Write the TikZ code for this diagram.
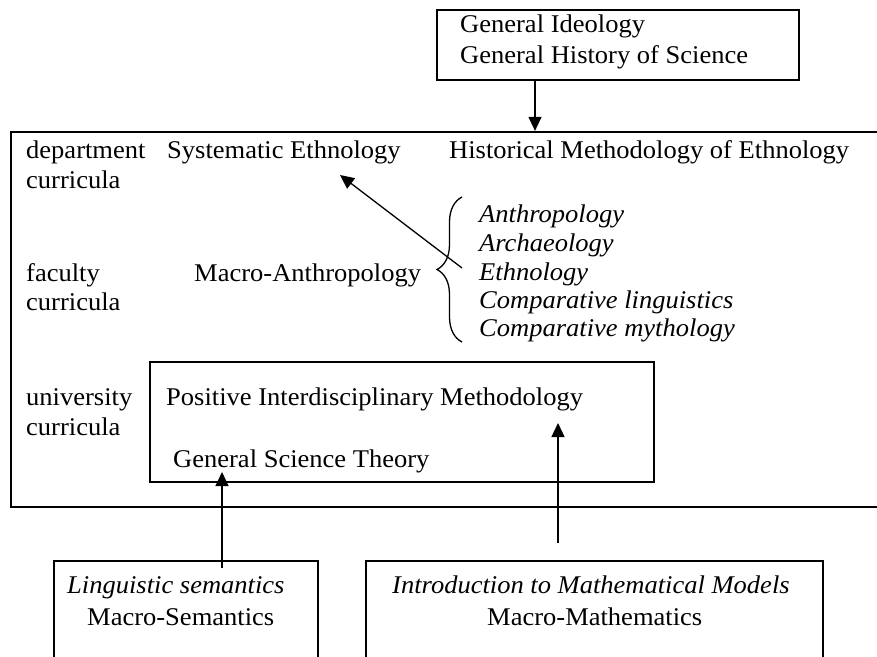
\documentclass[tikz,border=0pt]{standalone}
\usepackage{fontspec}
\setmainfont{Liberation Serif}[FakeStretch=1.04]
\usetikzlibrary{arrows.meta,decorations.pathreplacing}
\begin{document}
\begin{tikzpicture}[x=1pt,y=-1pt,
  txt/.style={anchor=base west,inner sep=0pt,font=\fontsize{25.5}{30}\selectfont},
  itxt/.style={anchor=base west,inner sep=0pt,font=\fontsize{25.5}{30}\selectfont\itshape},
  frame/.style={draw,rectangle,line width=1.3pt,inner sep=0pt},
  outerframe/.style={draw,rectangle,line width=2.2pt,inner sep=0pt},
  arr/.style={line width=1.3pt,-{Triangle[width=13pt,length=14pt]}},
  bracestyle/.style={line width=1.3pt,decorate,decoration={brace,amplitude=25pt}}]

\useasboundingbox (0,0) rectangle (877,656);
\clip (0,0) rectangle (877,656);

% boxes
\node[frame,minimum width=362pt,minimum height=70pt] (topbox) at (618,45) {};
\node[outerframe,minimum width=867pt,minimum height=375pt] (outer) at (444.5,319.5) {};
\node[frame,minimum width=504pt,minimum height=120pt] (inner) at (402,422) {};
\node[frame,minimum width=264pt,minimum height=159pt] (lbox) at (186,640.5) {};
\node[frame,minimum width=457pt,minimum height=159pt] (rbox) at (594.5,640.5) {};

% top box
\node[txt] (gi) at (460,32) {General Ideology};
\node[txt] (ghs) at (460,63) {General History of Science};

% department level
\node[txt] (dept) at (26,158) {department};
\node[txt] (dcur) at (26,188) {curricula};
\node[txt] (syst) at (167,158) {Systematic Ethnology};
\node[txt] (hist) at (449,158) {Historical Methodology of Ethnology};

% faculty level
\node[txt] (fac) at (26,281) {faculty};
\node[txt] (fcur) at (26,310) {curricula};
\node[txt] (macro) at (194,281) {Macro-Anthropology};
\draw[bracestyle] (462,342) -- (462,197);
\node[itxt] (anth) at (479,222) {Anthropology};
\node[itxt] (arch) at (479,251) {Archaeology};
\node[itxt] (ethn) at (479,280) {Ethnology};
\node[itxt] (cling) at (479,308) {Comparative linguistics};
\node[itxt] (cmyth) at (479,336) {Comparative mythology};

% university level
\node[txt] (univ) at (26,405) {university};
\node[txt] (ucur) at (26,435) {curricula};
\node[txt] (pim) at (166,405) {Positive Interdisciplinary Methodology};
\node[txt] (gst) at (173,467) {General Science Theory};

% feeding courses
\node[itxt] (ls) at (67,593) {Linguistic semantics};
\node[txt] (ms) at (87,625) {Macro-Semantics};
\node[itxt] (imm) at (392,593) {Introduction to Mathematical Models};
\node[txt] (mm) at (487,625) {Macro-Mathematics};

% connectors
\coordinate (a1) at (535,0);
\draw[arr] (topbox.south -| a1) -- (outer.north -| a1);
\coordinate (etail) at (462,268);
\coordinate (ehead) at (340,175);
\draw[arr] (etail) -- (ehead);
\coordinate (ltail) at (222,568);
\coordinate (ltip) at (222,472);
\draw[arr] (ltail) -- (ltip);
\coordinate (rtail) at (558,543);
\coordinate (rtip) at (558,423);
\draw[arr] (rtail) -- (rtip);
\end{tikzpicture}
\end{document}
